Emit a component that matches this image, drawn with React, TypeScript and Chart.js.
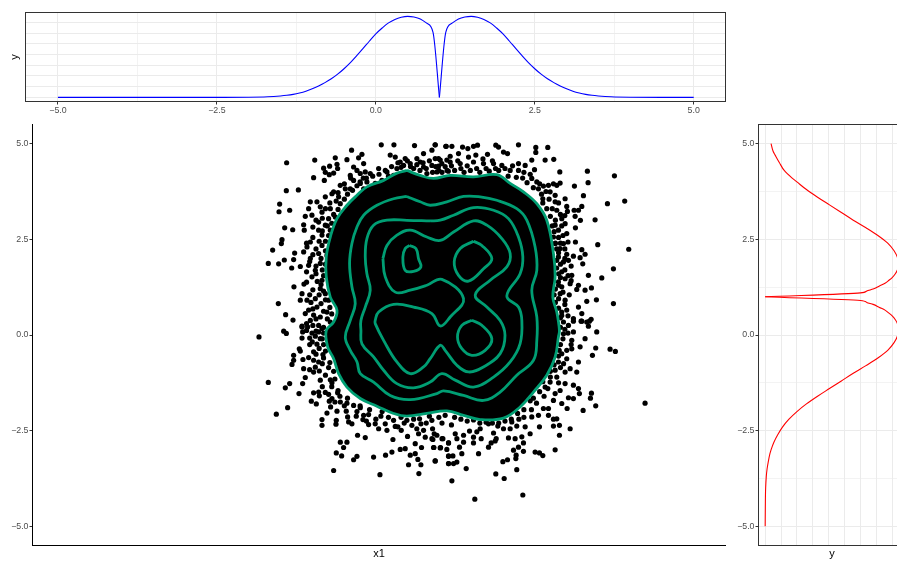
import React, { useEffect, useRef } from "react";
import { Chart, registerables } from "chart.js";

Chart.register(...registerables);

const FONT = "'Liberation Sans', Arial, sans-serif";
const TEXT_GREY = "#4d4d4d";
const GRID = "#ebebeb";
const GREEN = "#009E73";

const axisTicks = [-5, -3.75, -2.5, -1.25, 0, 1.25, 2.5, 3.75, 5];
const labelledTicks = [-5, -2.5, 0, 2.5, 5];
const densityTicksTop = [0, 1, 2, 3, 4, 5, 6, 7];
const densityTicksSide = [0, 1, 2, 3, 4, 5, 6, 7, 8];

const topLeftX = [-5, -3, -2.5, -2, -1.7, -1.5, -1.4, -1.3, -1.2, -1.1, -1, -0.9, -0.8, -0.7, -0.6, -0.5, -0.4, -0.3, -0.2, -0.1, 0, 0.1, 0.2, 0.3, 0.4, 0.5, 0.6, 0.7, 0.8, 0.9, 1];
const topLeftY = [0, 0, 0, 0.01, 0.05, 0.13, 0.19, 0.28, 0.41, 0.58, 0.8, 1.07, 1.38, 1.74, 2.17, 2.68, 3.25, 3.9, 4.58, 5.28, 5.95, 6.5, 6.98, 7.3, 7.5, 7.59, 7.53, 7.35, 6.95, 6.09, 0];
const topRightX = [1, 1.1, 1.2, 1.3, 1.4, 1.5, 1.6, 1.7, 1.8, 1.9, 2, 2.1, 2.2, 2.3, 2.4, 2.5, 2.6, 2.7, 2.8, 2.9, 3, 3.1, 3.2, 3.3, 3.4, 3.5, 3.7, 4, 4.5, 5];
const topRightY = [0, 6.09, 6.95, 7.35, 7.53, 7.59, 7.5, 7.3, 6.98, 6.5, 5.95, 5.28, 4.58, 3.9, 3.25, 2.68, 2.17, 1.74, 1.38, 1.07, 0.8, 0.58, 0.41, 0.28, 0.19, 0.13, 0.05, 0.01, 0, 0];

const sideLowerY = [-5, -4.5, -4, -3.7, -3.5, -3.3, -3.1, -3, -2.8, -2.6, -2.4, -2.2, -2, -1.8, -1.6, -1.4, -1.2, -1, -0.8, -0.6, -0.4, -0.2, 0, 0.15, 0.3, 0.4, 0.5, 0.57, 0.65, 0.72, 0.8, 0.85, 0.9, 1];
const sideLowerX = [0, 0.01, 0.03, 0.07, 0.12, 0.2, 0.3, 0.37, 0.55, 0.8, 1.1, 1.5, 2, 2.6, 3.3, 4.05, 4.8, 5.55, 6.35, 7.1, 7.72, 8.12, 8.36, 8.42, 8.33, 8.2, 8, 7.8, 7.55, 7.2, 6.8, 6.4, 6, 0];
const sideUpperY = [1, 1.1, 1.15, 1.2, 1.28, 1.35, 1.43, 1.5, 1.6, 1.7, 1.85, 2, 2.2, 2.4, 2.6, 2.8, 3, 3.2, 3.4, 3.6, 3.8, 4, 4.1, 4.3, 4.5, 4.7, 4.8, 5];
const sideUpperX = [0, 6, 6.4, 6.8, 7.2, 7.55, 7.8, 8, 8.2, 8.33, 8.42, 8.36, 8.12, 7.72, 7.1, 6.35, 5.55, 4.8, 4.05, 3.3, 2.6, 2, 1.7, 1.2, 0.9, 0.63, 0.5, 0.37];

type P = [number, number];

const contourOuter: P[] = [[0.443,4.3],[0.284,4.23],[0.073,4.04],[-0.192,3.87],[-0.35,3.65],[-0.509,3.39],[-0.667,3.04],[-0.773,2.56],[-0.837,2.04],[-0.837,1.52],[-0.773,0.99],[-0.667,0.645],[-0.72,0.34],[-0.837,0.12],[-0.815,-0.31],[-0.72,-0.62],[-0.641,-1.01],[-0.509,-1.36],[-0.297,-1.66],[-0.033,-1.86],[0.231,-2.05],[0.443,-2.12],[0.76,-2.05],[1.077,-1.985],[1.342,-2.1],[1.606,-2.21],[1.976,-2.17],[2.24,-1.88],[2.452,-1.49],[2.663,-1.05],[2.796,-0.574],[2.848,-0.05],[2.864,0.12],[2.822,0.6],[2.759,0.99],[2.796,1.52],[2.769,2.13],[2.663,2.997],[2.505,3.43],[2.293,3.74],[2.082,3.96],[1.87,4.19],[1.5,4.13],[1.13,4.17],[0.866,4.09],[0.654,4.17],[0.443,4.3]];
const contourSecond: P[] = [[0.443,3.62],[0.231,3.56],[-0.033,3.39],[-0.244,3.13],[-0.35,2.82],[-0.43,2.39],[-0.467,1.87],[-0.43,1.26],[-0.377,0.82],[-0.456,0.38],[-0.535,-0.05],[-0.456,-0.4],[-0.35,-0.7],[-0.297,-1.01],[-0.086,-1.23],[0.178,-1.58],[0.496,-1.69],[0.919,-1.53],[1.024,-1.46],[1.342,-1.58],[1.659,-1.71],[1.923,-1.49],[2.187,-1.05],[2.452,-0.66],[2.505,-0.14],[2.505,0.47],[2.425,1.17],[2.505,1.69],[2.478,2.3],[2.346,3],[2.187,3.3],[1.87,3.52],[1.606,3.61],[1.342,3.62],[1.077,3.48],[0.813,3.39],[0.654,3.48],[0.443,3.62]];
const contourThird: P[] = [[0.813,2.98],[0.443,2.997],[0.126,3],[-0.086,2.87],[-0.192,2.52],[-0.218,2.04],[-0.192,1.6],[-0.139,1.17],[-0.218,0.73],[-0.287,0.38],[-0.287,0.12],[-0.271,-0.23],[-0.086,-0.57],[0.073,-0.92],[0.284,-1.27],[0.549,-1.38],[0.813,-1.23],[0.998,-1.01],[1.21,-1.18],[1.5,-1.36],[1.818,-1.1],[2.082,-0.705],[2.24,-0.226],[2.267,0.384],[2.214,0.73],[2.029,1.02],[2.24,1.6],[2.283,2.04],[2.214,2.56],[2.055,3.04],[1.818,3.26],[1.5,3.33],[1.183,3.13],[0.972,3],[0.813,2.98]];
const contourFourth: P[] = [[0.062,2],[0.126,2.34],[0.284,2.61],[0.496,2.74],[0.76,2.56],[0.972,2.47],[1.183,2.69],[1.5,2.98],[1.712,2.87],[1.95,2.52],[2.082,2.13],[2.029,1.78],[1.765,1.43],[1.527,1.04],[1.712,0.73],[1.923,0.38],[2,-0.008],[1.923,-0.487],[1.659,-0.835],[1.421,-0.966],[1.236,-0.79],[1.05,-0.4],[0.972,-0.27],[0.813,-0.618],[0.707,-0.835],[0.496,-1.01],[0.284,-0.705],[0.073,-0.14],[-0.06,0.297],[-0.06,0.384],[-0.006,0.6],[0.231,0.8],[0.549,0.73],[0.84,0.56],[0.972,0.236],[1.13,0.47],[1.342,0.95],[0.998,1.455],[0.76,1.3],[0.496,1.17],[0.258,1.12],[0.099,1.52],[0.062,2]];
const contourUpperLeft: P[] = [[0.485,2.34],[0.586,2.26],[0.628,1.99],[0.665,1.78],[0.549,1.66],[0.416,1.69],[0.379,2.04],[0.416,2.26],[0.485,2.34]];
const contourUpperRight: P[] = [[1.5,2.45],[1.632,2.34],[1.791,1.995],[1.659,1.73],[1.42,1.41],[1.262,1.56],[1.194,1.91],[1.289,2.26],[1.5,2.45]];
const contourLowerRight: P[] = [[1.474,0.384],[1.632,0.253],[1.791,-0.095],[1.685,-0.4],[1.474,-0.53],[1.315,-0.356],[1.246,-0.05],[1.315,0.253],[1.474,0.384]];

const cloudUpperLeft: P[] = [[0.036,4.97],[0.237,4.97],[0.564,4.95],[0.892,4.97],[1.067,4.93],[-1.466,4.5],[-1.02,4.57],[-0.694,4.63],[-0.509,4.58],[-0.435,4.83],[-0.271,4.72],[-0.324,4.63],[0.178,4.7],[0.258,4.65],[-0.879,4.36],[-0.784,4.41],[-0.667,4.46],[-0.657,4.35],[-0.72,4.23],[-0.789,4.19],[-0.852,4.25],[-1.038,4.11],[-0.868,4.04],[-1.471,3.77],[-1.28,3.79],[-1.577,3.42],[-1.587,3.22],[-1.418,3.26],[-1.497,2.8],[-1.37,2.75],[-1.196,2.88],[-1.186,2.74],[-1.54,2.49],[-1.55,2.39],[-1.688,2.22],[-1.339,2.14],[-1.355,1.97],[-1.503,1.96],[-1.593,1.86],[-1.757,1.87],[-1.386,1.75],[-1.249,1.79],[-1.35,1.26],[-1.191,1.33],[-1.598,0.82],[-1.482,0.53],[-1.365,0.39],[-1.222,0.21],[-1.09,3.48],[-0.985,3.48],[-0.932,3.35],[-1.117,3.3],[-0.905,3.21],[-1.17,3.1],[-1.064,3.13],[-0.958,2.95],[-0.747,3.69],[-0.852,3.61],[-0.72,3.74],[-0.615,3.91],[-0.535,3.82],[-0.456,3.82],[-0.641,3.61],[-0.615,3.43],[-0.773,3.3],[-0.694,3.08],[-0.8,3.04],[-0.852,2.87],[-0.958,2.74],[-0.905,2.61],[-0.773,2.74],[-0.694,2.56],[-0.641,2.39],[-0.747,2.3],[-0.905,2.34],[-1.09,2.43],[-1.143,2.3],[-1.196,2.17],[-0.958,2.13],[-0.826,2.08],[-1.09,2],[-0.932,1.87],[-1.117,1.82],[-1.011,1.69],[-1.064,1.52],[-0.905,1.43],[-0.826,1.56],[-0.932,1.21],[-0.852,1.08],[-1.222,1.08],[-1.143,0.91],[-1.249,0.91],[-1.011,0.95],[-0.8,0.91],[-0.985,0.73],[-1.117,0.65],[-1.17,0.56],[-1.038,0.52],[-0.932,0.47],[-0.826,0.6],[-1.09,0.38],[-0.958,0.25],[-0.773,0.34],[-0.905,0.17],[-0.403,4.39],[-0.35,4.3],[-0.244,4.48],[-0.218,4.26],[-0.139,4.22],[-0.006,4.35],[0.126,4.26],[0.284,4.35],[0.416,4.61],[0.496,4.48],[0.707,4.74],[0.84,4.83],[0.892,4.61],[0.707,4.39],[0.601,4.61],[0.84,4.43],[0.998,4.48],[1.077,4.57],[-0.403,4.04],[-0.297,3.96],[-0.192,4],[-0.244,3.82],[-0.06,3.96],[0.046,4.04],[0.231,4.17],[0.39,4.43],[0.654,4.52],[0.945,4.61],[0.76,4.22],[0.92,4.26],[1.08,4.3],[0.337,4.52],[-0.297,4.22],[-0.456,4.17]];

const cloudUpperRight: P[] = [[0.892,4.97],[1.06,4.93],[1.157,4.93],[1.326,4.91],[1.41,4.87],[1.5,4.93],[1.564,4.96],[1.854,4.96],[1.897,4.91],[2.214,4.97],[2.489,4.9],[2.679,4.9],[2.489,4.77],[1.976,4.78],[2.04,4.74],[2.637,4.57],[2.774,4.59],[2.425,4.57],[1.722,4.72],[1.537,4.7],[1.421,4.65],[1.262,4.74],[1.13,4.67],[0.972,4.57],[0.945,4.41],[1.13,4.52],[1.289,4.48],[1.5,4.52],[1.659,4.48],[1.818,4.48],[1.95,4.43],[2.082,4.3],[2.214,4.48],[2.32,4.43],[2.214,4.3],[2.468,4.32],[2.87,4.26],[3.308,4.28],[3.737,4.16],[3.319,3.98],[3.102,3.89],[3.245,3.64],[3.626,3.43],[3.9,3.5],[2.875,3.97],[2.769,3.95],[2.822,3.91],[2.69,3.91],[2.61,3.89],[2.425,4.09],[2.505,4],[2.531,3.82],[2.716,3.74],[2.796,3.65],[2.954,3.56],[2.6,3.56],[2.796,3.48],[2.663,3.3],[2.822,3.26],[2.98,3.36],[3.219,3.36],[3.097,3.26],[3.166,3.26],[2.991,3.23],[3.113,3.1],[3.197,2.997],[3.43,3.01],[2.901,3.04],[2.954,2.91],[3.118,2.8],[2.796,2.87],[2.848,2.74],[2.98,2.65],[2.769,2.56],[2.796,2.39],[2.928,2.39],[3.118,2.43],[3,2.43],[3.472,2.36],[3.964,2.24],[3.219,2.23],[2.875,2.26],[3.271,2.11],[2.98,2.11],[3.086,2.06],[3.192,2.02],[2.848,2.04],[3.234,1.86],[2.928,1.91],[3.007,1.95],[3.721,1.73],[3.324,1.56],[3.536,1.49],[3.06,1.56],[2.901,1.65],[2.954,1.47],[2.848,1.39],[3.166,1.3],[3.139,1.19],[3.271,1.17],[3.372,1.23],[3.034,1.34],[2.901,1.26],[2.875,1.08],[2.954,0.91],[3.298,0.88],[3.451,0.92],[3.721,0.82],[3.166,0.73],[3.219,0.56],[2.98,0.65],[2.901,0.51],[3.086,0.43],[3.367,0.41],[3.298,0.34],[3.208,0.36],[3.007,0.25],[2.928,0.34]];

const cloudLowerRight: P[] = [[3.086,0.36],[3.219,0.36],[3.34,0.36],[3.324,0.23],[3.086,0.08],[3.456,0.08],[3.271,-0.095],[3.06,-0.14],[2.928,0.03],[3.192,-0.31],[3.06,-0.36],[3.44,-0.34],[3.668,-0.37],[3.752,-0.43],[3.388,-0.53],[2.901,-0.49],[2.98,-0.62],[3.166,-0.705],[2.848,-0.705],[3.034,-0.88],[3.139,-0.97],[2.954,-0.97],[2.796,-0.92],[2.822,-1.1],[2.954,-1.27],[3.086,-1.31],[3.166,-1.4],[2.875,-1.45],[2.716,-1.23],[2.637,-1.36],[2.796,-1.53],[3.181,-1.53],[3.372,-1.52],[3.356,-1.65],[3.086,-1.66],[3.007,-1.64],[2.901,-1.79],[2.769,-1.71],[4.223,-1.78],[3.44,-1.85],[3.24,-1.97],[2.986,-1.92],[2.69,-1.92],[2.61,-1.92],[2.531,-2.1],[2.425,-2.14],[2.822,-2.19],[2.769,-2.2],[2.69,-2.1],[2.864,-2.36],[2.769,-2.38],[3.034,-2.45],[2.547,-2.4],[2.32,-2.4],[2.187,-2.38],[2.108,-2.27],[2.082,-2.45],[1.976,-2.45],[1.886,-2.38],[2.399,-2.58],[2.864,-2.62],[2.267,-2.66],[2.161,-2.71],[2.055,-2.69],[1.86,-2.71],[1.818,-2.56],[1.738,-2.32],[1.606,-2.45],[1.553,-2.53],[1.5,-2.67],[1.437,-2.51],[1.342,-2.62],[1.21,-2.58],[1.236,-2.71],[1.014,-2.71],[0.919,-2.62],[0.84,-2.71],[2.293,-2.82],[2.214,-2.93],[2.135,-3.01],[2.293,-3.04],[1.844,-2.77],[1.78,-2.82],[1.738,-2.93],[1.622,-2.71],[1.5,-2.82],[1.342,-2.8],[1.278,-2.93],[1.104,-2.82],[1.077,-2.99],[0.972,-2.95],[0.866,-2.94],[2.796,-3],[2.478,-3.06],[2.547,-3.08],[2.6,-3.15],[2.177,-3.14],[2.172,-3.23],[2.04,-3.26],[1.966,-3.31],[1.58,-3.1],[1.315,-3.1],[1.104,-3.16],[1.173,-3.16],[0.892,-3.29],[1.104,-3.36],[1.183,-3.36],[1.236,-3.32],[1.384,-3.49],[2.187,-3.52],[1.854,-3.63],[1.987,-3.75],[1.157,-3.81],[2.283,-4.18],[1.521,-4.29]];

const cloudLowerLeft: P[] = [[-1.905,-0.05],[-1.513,0.1],[-1.471,0.04],[-1.222,0.23],[-1.133,0.21],[-1.212,0.08],[-1.222,-0.08],[-1.064,0.05],[-0.958,0.08],[-1.011,-0.03],[-0.932,-0.095],[-1.059,-0.18],[-0.985,-0.24],[-1.265,-0.36],[-1.249,-0.42],[-1.038,-0.44],[-0.89,-0.51],[-1.355,-0.53],[-1.207,-0.64],[-1.355,-0.66],[-1.117,-0.59],[-1.038,-0.66],[-0.958,-0.705],[-1.381,-0.77],[-1.196,-0.88],[-1.101,-0.905],[-1.011,-0.84],[-0.947,-0.94],[-1.038,-0.97],[-1.17,-1.11],[-0.932,-1.18],[-0.773,-1.17],[-0.747,-1.25],[-1.757,-1.24],[-1.418,-1.27],[-1.212,-1.27],[-1.487,-1.38],[-1.27,-1.53],[-1.038,-1.51],[-0.958,-1.49],[-0.947,-1.59],[-0.852,-1.5],[-0.657,-1.51],[-0.747,-1.66],[-0.789,-1.73],[-1.074,-1.73],[-0.995,-1.8],[-1.45,-1.9],[-0.768,-1.88],[-1.63,-2.07],[-0.614,-1.75],[-0.509,-1.78],[-0.403,-1.84],[-0.297,-1.9],[-0.667,-1.99],[-0.826,-2.04],[-0.52,-1.99],[-0.498,-2.14],[-0.361,-2.12],[-0.244,-2.1],[-0.165,-2.08],[-0.905,-2.21],[-0.678,-2.23],[-0.905,-2.36],[-0.683,-2.33],[-0.482,-2.27],[-0.255,-2.21],[-0.43,-2.32],[-0.165,-2.34],[-0.06,-2.32],[-0.006,-2.45],[0.03,-2.12],[0.099,-2.32],[0.231,-2.23],[0.258,-2.39],[0.126,-2.49],[0.353,-2.49],[0.221,-2.73],[0.453,-2.65],[0.522,-2.36],[0.665,-2.32],[0.628,-2.58],[0.443,-2.23],[0.644,-2.19],[0.839,-2.23],[0.707,-2.49],[0.876,-2.58],[0.734,-2.67],[0.855,-2.73],[1,-2.71],[-0.34,-2.62],[-0.218,-2.68],[-0.614,-2.8],[-0.509,-2.8],[-0.562,-2.94],[-0.678,-3.08],[-0.593,-3.16],[-0.35,-3.17],[-0.403,-3.26],[-0.086,-3.19],[0.104,-3.14],[0.205,-3.06],[0.337,-2.99],[0.416,-2.97],[0.575,-2.84],[0.675,-2.94],[0.575,-3.1],[0.496,-3.14],[0.617,-3.25],[0.469,-3.39],[0.665,-3.39],[0.892,-3.29],[0.871,-2.94],[0.977,-2.94],[1.104,-2.82],[1.104,-3.17],[1.104,-3.36],[-0.72,-3.54],[0.015,-3.65],[0.633,-3.62]];

const cloudBandTop: P[] = [[-0.3,4],[-0.2,4.1],[-0.1,4.15],[0,4.2],[0.1,4.3],[0.2,4.4],[0.15,4.15],[0.3,4.5],[0.35,4.38],[0.45,4.55],[0.5,4.4],[0.55,4.35],[0.6,4.45],[0.65,4.3],[0.7,4.5],[0.75,4.35],[0.8,4.55],[0.85,4.25],[0.9,4.4],[0.95,4.3],[1,4.25],[1.05,4.4],[1.1,4.28],[1.15,4.42],[1.2,4.3],[1.25,4.55],[1.3,4.35],[1.35,4.25],[1.4,4.42],[1.45,4.3],[1.55,4.35],[1.6,4.25],[1.65,4.6],[1.7,4.35],[1.75,4.28],[1.8,4.55],[1.85,4.35],[1.9,4.3],[2,4.35],[2.05,4.15],[2.12,4.42],[2.18,4.12],[2.28,4.1],[2.3,4.25],[2.35,3.98],[2.4,4.2],[2.45,3.85],[2.55,3.95]];
const cloudBandRight: P[] = [[2.58,3.68],[2.65,3.75],[2.6,3.45],[2.7,3.55],[2.75,3.3],[2.85,3.45],[2.72,3.1],[2.88,3.15],[2.8,3],[2.95,3.12],[2.75,2.85],[2.9,2.85],[2.78,2.7],[2.92,2.6],[2.85,2.55],[2.8,2.4],[2.88,2.4],[2.82,2.25],[2.95,2.25],[2.85,2.15],[2.95,2],[2.82,1.95],[2.88,1.85],[3.05,1.8],[2.82,1.75],[2.95,1.7],[2.85,1.6],[3,1.55],[2.88,1.5],[2.85,1.3],[3.05,1.42],[2.8,1.2],[2.92,1.12],[2.78,1.05],[3.02,1.05],[2.85,0.95],[2.8,0.85],[2.95,0.8],[2.85,0.7],[2.9,0.6],[2.88,0.45],[3,0.5],[2.95,0.15],[2.88,0.2],[3,0.05],[2.92,-0.1],[3.05,-0.25],[2.88,-0.25],[2.98,-0.4],[2.86,-0.4],[2.85,-0.55],[2.93,-0.75],[2.78,-0.78],[2.88,-0.85],[2.72,-0.95],[2.72,-1.1],[2.85,-1.25],[2.6,-1.22],[2.68,-1.4],[2.55,-1.48],[2.62,-1.6],[2.45,-1.65],[2.5,-1.78],[2.4,-1.72],[2.3,-1.95],[2.42,-1.95],[2.2,-2.05],[2.3,-2.15],[2.1,-2.2],[2.22,-2.2]];
const cloudBandBottom: P[] = [[2,-2.25],[1.9,-2.3],[1.8,-2.3],[1.7,-2.28],[1.6,-2.3],[1.5,-2.22],[1.4,-2.25],[1.3,-2.2],[1.2,-2.15],[1.15,-2.35],[1.05,-2.1],[1,-2.3],[0.95,-2.15],[0.85,-2.45],[0.8,-2.12],[0.75,-2.3],[0.6,-2.45],[0.55,-2.2],[0.4,-2.3],[0.35,-2.15],[0.3,-2.4],[0.15,-2.15],[0.05,-2],[-0.05,-2.2],[-0.15,-1.95],[-0.2,-2.25],[-0.3,-1.85],[-0.35,-2],[-0.5,-1.65],[-0.55,-1.85],[-0.62,-1.6],[-0.65,-1.45],[-0.7,-1.75],[-0.75,-1.35],[-0.8,-1.55],[-0.9,-1.35]];
const cloudBandLeft: P[] = [[-0.7,-1.15],[-0.85,-1.05],[-0.72,-0.95],[-0.8,-0.85],[-0.9,-0.75],[-0.78,-0.72],[-0.88,-0.6],[-1,-0.5],[-0.85,-0.42],[-0.95,-0.35],[-0.88,-0.25],[-1.1,-0.25],[-0.9,-0.1],[-1.1,-0.08],[-1,0.1],[-0.88,0.05],[-1.15,0.12],[-1.05,0.25],[-0.88,0.2],[-1.15,0.3],[-0.82,0.42],[-1,0.42],[-0.75,0.55],[-0.88,0.62],[-1.05,0.68],[-0.78,0.72],[-0.92,0.82],[-1.08,0.85],[-0.85,0.92],[-0.95,1.05],[-1.1,1.05],[-0.88,1.15],[-1.05,1.18],[-0.92,1.32],[-1.15,1.38],[-0.98,1.4],[-0.88,1.55],[-1,1.6],[-1.15,1.65],[-0.9,1.7],[-1,1.8],[-0.85,1.85],[-1.1,1.92],[-0.92,2],[-1.05,2.1],[-0.85,2.2],[-1,2.25],[-1.15,2.4],[-0.85,2.45],[-0.95,2.45],[-1.05,2.55],[-0.8,2.6],[-0.9,2.72],[-0.82,2.85],[-1.05,2.82],[-0.75,2.92],[-0.9,3.05],[-1,3],[-0.72,3.15],[-0.85,3.3],[-0.65,3.28],[-0.78,3.45],[-0.55,3.55],[-0.68,3.5],[-0.5,3.68],[-0.65,3.72],[-0.42,3.78],[-0.55,3.95],[-0.35,3.9],[-0.45,4.1],[-0.25,4.1]];

const toXY = (pts: P[]) => pts.map(([x, y]) => ({ x, y }));
const zipXY = (xs: number[], ys: number[]) => xs.map((x, i) => ({ x, y: ys[i] }));
const axisLabel = (v: number) => (labelledTicks.includes(v) ? v.toFixed(1).replace("-", "\u2212") : "");
const setTicks = (arr: number[]) => (s: any) => {
  s.ticks = arr.map((value) => ({ value }));
};
const isMajor = (ctx: any) => labelledTicks.includes(ctx.tick?.value);

const panelBorder = {
  id: "panelBorder",
  afterDraw(chart: any) {
    const { left, right, top, bottom } = chart.chartArea;
    const c = chart.ctx;
    c.save();
    c.strokeStyle = "#333333";
    c.lineWidth = 1;
    c.strokeRect(left, top, right - left, bottom - top);
    c.restore();
  },
};

const tickFont = { family: FONT, size: 8.8 };
const titleFont = { family: FONT, size: 11 };

const topConfig = (): any => ({
  type: "line",
  plugins: [panelBorder],
  data: {
    datasets: [
      { data: zipXY(topLeftX, topLeftY), borderColor: "#0000ff", borderWidth: 1.1, pointRadius: 0, cubicInterpolationMode: "monotone" },
      { data: zipXY(topRightX, topRightY), borderColor: "#0000ff", borderWidth: 1.1, pointRadius: 0, cubicInterpolationMode: "monotone" },
    ],
  },
  options: {
    responsive: false,
    animation: false,
    events: [],
    layout: { padding: { left: 0, top: 12.5, right: 920 - 725.5, bottom: 561 - 101.5 - 15 } },
    plugins: { legend: { display: false }, tooltip: { enabled: false } },
    scales: {
      x: {
        type: "linear",
        min: -5.51,
        max: 5.5,
        afterBuildTicks: setTicks(axisTicks),
        afterFit: (s: any) => { s.height = 15; },
        ticks: { autoSkip: false, maxRotation: 0, padding: 1, color: TEXT_GREY, font: tickFont, callback: axisLabel },
        border: { display: false },
        grid: {
          color: GRID,
          lineWidth: (c: any) => (isMajor(c) ? 1 : 0.6),
          tickLength: 3,
          tickColor: (c: any) => (isMajor(c) ? "#333333" : "rgba(0,0,0,0)"),
        },
      },
      y: {
        type: "linear",
        min: -0.39,
        max: 7.95,
        afterBuildTicks: setTicks(densityTicksTop),
        afterFit: (s: any) => { s.width = 25.5; },
        ticks: { display: false },
        border: { display: false },
        grid: { color: GRID, lineWidth: 1, drawTicks: false },
        title: { display: true, text: "y", color: "#000", font: titleFont, padding: { top: 8, bottom: 0 } },
      },
    },
  },
});

const mainConfig = (): any => ({
  data: {
    datasets: [
      ...[contourUpperLeft, contourUpperRight, contourLowerRight, contourFourth, contourThird, contourSecond, contourOuter].map((c) => ({
        type: "line",
        data: toXY(c),
        borderColor: GREEN,
        borderWidth: 2.8,
        pointRadius: 0,
        tension: 0.4,
        fill: false,
      })),
      ...[cloudUpperLeft, cloudUpperRight, cloudLowerRight, cloudLowerLeft, cloudBandTop, cloudBandRight, cloudBandBottom, cloudBandLeft].map((c) => ({
        type: "scatter",
        data: toXY(c),
        backgroundColor: "#000",
        borderWidth: 0,
        pointRadius: 2.6,
      })),
      {
        type: "line",
        data: toXY(contourOuter),
        borderColor: "#000",
        backgroundColor: "#000",
        borderWidth: 1,
        pointRadius: 0,
        tension: 0.4,
        fill: "shape",
      },
    ],
  },
  options: {
    responsive: false,
    animation: false,
    events: [],
    layout: { padding: { left: 0, top: 124.5, right: 920 - 725.5, bottom: 0.5 } },
    plugins: { legend: { display: false }, tooltip: { enabled: false } },
    scales: {
      x: {
        type: "linear",
        min: -5.5,
        max: 5.5,
        afterFit: (s: any) => { s.height = 15; },
        ticks: { display: false },
        border: { color: "#000", width: 1 },
        grid: { display: false },
        title: { display: true, text: "x1", color: "#000", font: titleFont, padding: 0 },
      },
      y: {
        type: "linear",
        min: -5.5,
        max: 5.5,
        afterBuildTicks: setTicks(labelledTicks),
        afterFit: (s: any) => { s.width = 32.5; },
        ticks: { autoSkip: false, padding: 1, color: TEXT_GREY, font: tickFont, callback: axisLabel },
        border: { color: "#000", width: 1 },
        grid: { drawOnChartArea: false, tickLength: 3, tickColor: "#333333" },
      },
    },
  },
});

const sideConfig = (): any => ({
  type: "line",
  plugins: [panelBorder],
  data: {
    datasets: [
      { data: zipXY(sideLowerX, sideLowerY), borderColor: "#ff0000", borderWidth: 1.1, pointRadius: 0, cubicInterpolationMode: "monotone" },
      { data: zipXY(sideUpperX, sideUpperY), borderColor: "#ff0000", borderWidth: 1.1, pointRadius: 0, cubicInterpolationMode: "monotone" },
    ],
  },
  options: {
    indexAxis: "y",
    responsive: false,
    animation: false,
    events: [],
    layout: { padding: { left: 725.5, top: 124.5, right: 920 - 905.5, bottom: 0.5 } },
    plugins: { legend: { display: false }, tooltip: { enabled: false } },
    scales: {
      x: {
        type: "linear",
        min: -0.42,
        max: 8.84,
        afterBuildTicks: setTicks(densityTicksSide),
        afterFit: (s: any) => { s.height = 15; },
        ticks: { display: false },
        border: { display: false },
        grid: { color: GRID, lineWidth: 1, drawTicks: false },
        title: { display: true, text: "y", color: "#000", font: titleFont, padding: 0 },
      },
      y: {
        type: "linear",
        min: -5.5,
        max: 5.5,
        afterBuildTicks: setTicks(axisTicks),
        afterFit: (s: any) => { s.width = 33; },
        ticks: { autoSkip: false, padding: 1, color: TEXT_GREY, font: tickFont, callback: axisLabel },
        border: { display: false },
        grid: {
          color: GRID,
          lineWidth: (c: any) => (isMajor(c) ? 1 : 0.6),
          tickLength: 3,
          tickColor: (c: any) => (isMajor(c) ? "#333333" : "rgba(0,0,0,0)"),
        },
      },
    },
  },
});

function Panel({ make }: { make: () => any }) {
  const ref = useRef<HTMLCanvasElement | null>(null);
  useEffect(() => {
    const chart = new Chart(ref.current as HTMLCanvasElement, make());
    return () => chart.destroy();
  }, [make]);
  return <canvas ref={ref} width={920} height={561} style={{ position: "absolute", left: 0, top: 0, width: 920, height: 561 }} />;
}

export default function App() {
  return (
    <div style={{ position: "fixed", left: 0, top: 0, width: 897, height: 561, overflow: "hidden", background: "#fff" }}>
      <Panel make={topConfig} />
      <Panel make={mainConfig} />
      <Panel make={sideConfig} />
    </div>
  );
}
